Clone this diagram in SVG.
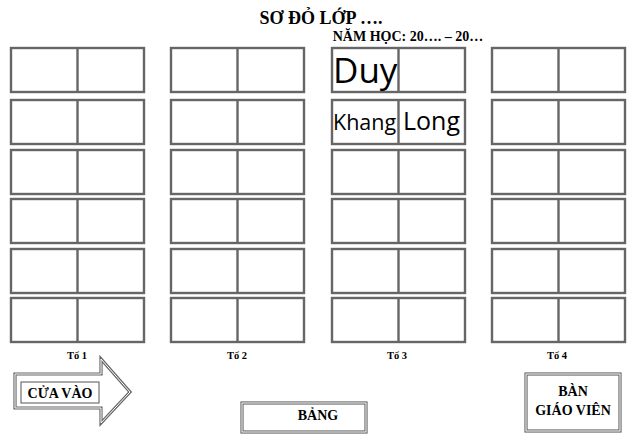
<svg xmlns="http://www.w3.org/2000/svg" width="640" height="436" viewBox="0 0 640 436">
<style>
.desk{fill:#fff;stroke:#666;stroke-width:2.4}
.div{stroke:#666;stroke-width:2.4}
.t{font-family:"Liberation Serif",serif;font-weight:bold;fill:#000}
.name{font-family:"Open Sans","Noto Sans",sans-serif;fill:#000}
.dbl{fill:#fff;stroke:#666;stroke-width:3.2}
.dbl2{fill:none;stroke:#fff;stroke-width:1}
</style>
<defs>
<g id="deskshape"><rect class="desk" x="0" y="0" width="133" height="44"/><line class="div" x1="66.5" y1="0" x2="66.5" y2="44"/></g>
</defs>
<text class="t" x="321" y="24" font-size="18" text-anchor="middle">SƠ ĐỎ LỚP ….</text>
<text class="t" x="408" y="41" font-size="14" text-anchor="middle">NĂM HỌC: 20…. – 20…</text>
<g id="to1">
<use href="#deskshape" x="11" y="48"/><use href="#deskshape" x="11" y="100"/><use href="#deskshape" x="11" y="150"/><use href="#deskshape" x="11" y="199"/><use href="#deskshape" x="11" y="249"/><use href="#deskshape" x="11" y="298"/>
<text class="t" x="77" y="359" font-size="10.5" text-anchor="middle">Tổ 1</text>
</g>
<g id="to2">
<use href="#deskshape" x="171" y="48"/><use href="#deskshape" x="171" y="100"/><use href="#deskshape" x="171" y="150"/><use href="#deskshape" x="171" y="199"/><use href="#deskshape" x="171" y="249"/><use href="#deskshape" x="171" y="298"/>
<text class="t" x="237" y="359" font-size="10.5" text-anchor="middle">Tổ 2</text>
</g>
<g id="to3">
<use href="#deskshape" x="332" y="48"/><use href="#deskshape" x="332" y="100"/><use href="#deskshape" x="332" y="150"/><use href="#deskshape" x="332" y="199"/><use href="#deskshape" x="332" y="249"/><use href="#deskshape" x="332" y="298"/>
<text class="t" x="397" y="359" font-size="10.5" text-anchor="middle">Tổ 3</text>
<text class="name" x="333" y="83" font-size="35">Duy</text>
<text class="name" x="333" y="130" font-size="21.5">Khang</text>
<text class="name" x="403" y="130" font-size="25">Long</text>
</g>
<g id="to4">
<use href="#deskshape" x="492" y="48"/><use href="#deskshape" x="492" y="100"/><use href="#deskshape" x="492" y="150"/><use href="#deskshape" x="492" y="199"/><use href="#deskshape" x="492" y="249"/><use href="#deskshape" x="492" y="298"/>
<text class="t" x="557" y="359" font-size="10.5" text-anchor="middle">Tổ 4</text>
</g>
<g id="cuavao">
<polygon class="dbl" points="15,374 101,374 101,359 130,392 101,423 101,408 15,408"/>
<polygon class="dbl2" points="15,374 101,374 101,359 130,392 101,423 101,408 15,408"/>
<rect x="21" y="382" width="78" height="21" fill="#fff" stroke="#555" stroke-width="1"/>
<text class="t" x="60" y="398" font-size="14" text-anchor="middle">CỬA VÀO</text>
</g>
<g id="bang">
<rect class="dbl" x="242" y="403" width="124" height="29"/>
<rect class="dbl2" x="242" y="403" width="124" height="29"/>
<text class="t" x="318" y="420" font-size="14" text-anchor="middle">BẢNG</text>
</g>
<g id="bangiaovien">
<rect class="dbl" x="526" y="374" width="94" height="57"/>
<rect class="dbl2" x="526" y="374" width="94" height="57"/>
<text class="t" x="573" y="396" font-size="14" text-anchor="middle">BÀN</text>
<text class="t" x="573" y="415" font-size="14" text-anchor="middle">GIÁO VIÊN</text>
</g>
<g id="connectors"/>
</svg>
